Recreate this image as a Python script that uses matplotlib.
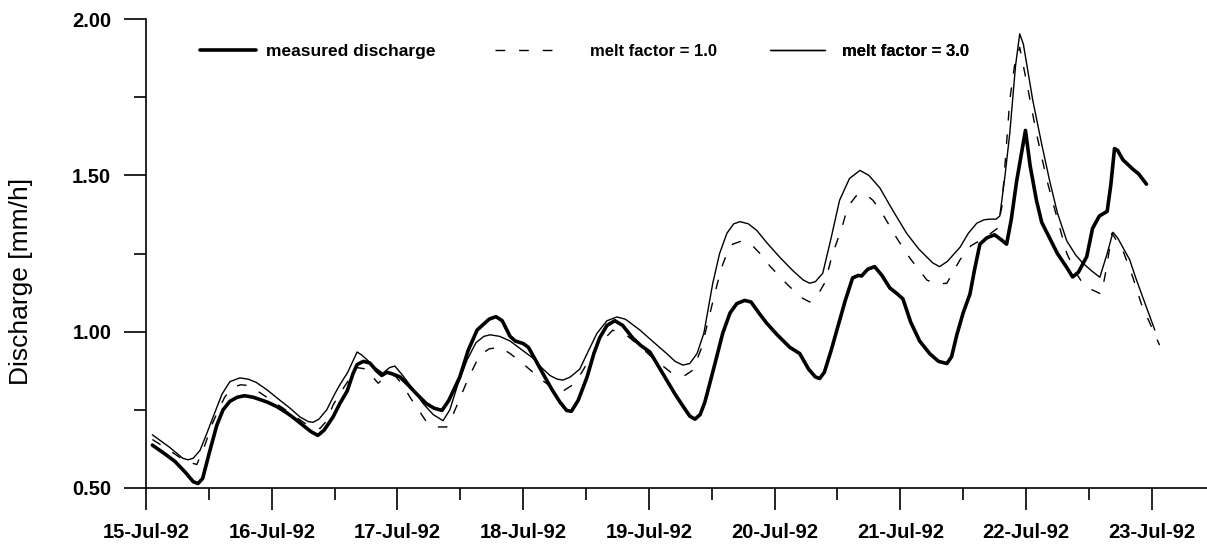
import matplotlib
matplotlib.use("Agg")
import matplotlib.pyplot as plt
import matplotlib.dates as mdates
from matplotlib.lines import Line2D
import numpy as np
import pandas as pd

# hours after 15-Jul-92 00:00 and discharge in mm/h
meas_h = [1.2, 3.5, 5.5, 7.5, 9.0, 9.9, 10.8, 12.2, 13.5, 14.7, 16.0, 17.4,
          18.8, 20.5, 23.1, 25.0, 26.9, 28.5, 30.0, 31.5, 32.8, 34.0, 35.7,
          37.0, 38.4, 39.5, 40.3, 41.5, 42.7, 44.0, 45.0, 46.0, 47.0, 48.5,
          50.0, 51.7, 53.5, 55.0, 56.5, 57.8, 59.9, 61.5, 63.2, 64.5, 65.5,
          66.8, 68.0, 69.5, 70.5, 72.0, 73.0, 74.5, 75.8, 77.5, 79.0, 80.3,
          81.2, 82.5, 84.2, 85.5, 86.6, 88.0, 89.5, 91.0, 92.9, 94.5, 96.2,
          97.8, 99.4, 101.0, 102.5, 103.8, 104.8, 105.8, 106.7, 108.5, 110.1,
          111.5, 112.8, 114.3, 115.5, 117.0, 118.5, 120.5, 122.9, 124.8,
          126.5, 127.8, 128.6, 129.5, 130.8, 131.9, 133.5, 134.9, 136.0,
          136.6, 137.8, 139.1, 140.5, 142.0, 143.5, 144.5, 146.0, 147.7,
          149.6, 151.3, 152.9, 153.8, 154.8, 156.0, 157.3, 158.2, 159.2,
          160.5, 162.0, 163.2, 164.3, 165.2, 166.2, 167.9, 168.8, 170.0,
          171.0, 172.5, 174.0, 175.8, 176.9, 178.0, 179.6, 180.7, 182.0,
          183.5, 184.2, 184.9, 185.5, 186.5, 188.4, 189.5, 191.0]
meas_q = [0.637, 0.61, 0.585, 0.55, 0.52, 0.514, 0.53, 0.62, 0.70, 0.75,
          0.777, 0.79, 0.795, 0.79, 0.775, 0.76, 0.74, 0.72, 0.70, 0.68,
          0.668, 0.685, 0.727, 0.77, 0.81, 0.865, 0.895, 0.905, 0.90, 0.875,
          0.86, 0.87, 0.865, 0.855, 0.83, 0.80, 0.77, 0.755, 0.748, 0.78,
          0.855, 0.94, 1.005, 1.025, 1.04, 1.048, 1.035, 0.985, 0.97, 0.962,
          0.95, 0.905, 0.865, 0.815, 0.775, 0.748, 0.745, 0.78, 0.855, 0.93,
          0.98, 1.02, 1.035, 1.02, 0.98, 0.955, 0.935, 0.89, 0.845, 0.80,
          0.762, 0.73, 0.72, 0.735, 0.775, 0.89, 0.995, 1.06, 1.09, 1.10,
          1.095, 1.06, 1.027, 0.99, 0.95, 0.93, 0.88, 0.855, 0.85, 0.87,
          0.94, 1.005, 1.10, 1.172, 1.18, 1.178, 1.20, 1.208, 1.18, 1.14,
          1.12, 1.105, 1.03, 0.97, 0.93, 0.905, 0.898, 0.92, 0.99, 1.06, 1.12,
          1.20, 1.28, 1.30, 1.31, 1.295, 1.28, 1.36, 1.48, 1.644, 1.53, 1.42,
          1.35, 1.30, 1.25, 1.205, 1.175, 1.19, 1.24, 1.33, 1.37, 1.385, 1.47,
          1.586, 1.58, 1.55, 1.52, 1.505, 1.472]

mf1_h = [1.2, 4.5, 7.5, 9.7, 11.3, 12.5, 13.7, 15.0, 16.4, 18.0, 19.5, 20.8,
         24.0, 27.5, 30.5, 33.2, 34.5, 35.7, 37.3, 38.9, 40.3, 42.2, 43.3,
         44.3, 45.8, 47.5, 49.0, 50.4, 52.0, 53.6, 55.5, 57.4, 58.5, 59.5,
         61.5, 63.7, 65.5, 67.6, 69.5, 71.8, 75.6, 78.0, 79.6, 81.5, 83.2,
         86.0, 89.1, 92.0, 94.5, 96.8, 100.4, 102.9, 104.4, 106.1, 108.6,
         109.9, 111.0, 112.0, 113.7, 115.8, 117.5, 119.1, 122.5, 125.0,
         126.7, 128.0, 129.6, 131.1, 132.8, 134.0, 135.6, 137.2, 138.8,
         140.5, 143.3, 145.8, 149.1, 151.0, 152.9, 155.4, 157.5, 160.1,
         162.5, 163.4, 164.9, 165.8, 166.8, 168.1, 170.0, 172.0, 173.9,
         175.8, 177.5, 178.8, 180.5, 182.4, 183.4, 184.4, 186.5, 188.4,
         190.0, 193.5]
mf1_q = [0.655, 0.62, 0.585, 0.575, 0.64, 0.70, 0.745, 0.79, 0.82, 0.83,
         0.828, 0.815, 0.78, 0.74, 0.705, 0.69, 0.715, 0.765, 0.81, 0.85,
         0.885, 0.88, 0.855, 0.835, 0.855, 0.86, 0.83, 0.79, 0.75, 0.71,
         0.695, 0.695, 0.73, 0.77, 0.85, 0.925, 0.945, 0.95, 0.93, 0.90,
         0.845, 0.815, 0.81, 0.83, 0.87, 0.95, 1.005, 0.985, 0.95, 0.915,
         0.867, 0.86, 0.877, 0.95, 1.123, 1.206, 1.255, 1.28, 1.29, 1.275,
         1.245, 1.21, 1.15, 1.11, 1.095, 1.11, 1.157, 1.25, 1.33, 1.40,
         1.435, 1.442, 1.42, 1.38, 1.30, 1.236, 1.165, 1.152, 1.155, 1.23,
         1.275, 1.30, 1.33, 1.40, 1.74, 1.85, 1.91, 1.80, 1.634, 1.484, 1.366,
         1.25, 1.19, 1.155, 1.135, 1.12, 1.206, 1.315, 1.26, 1.174, 1.09,
         0.957]

mf3_h = [1.2, 4.5, 7.0, 8.0, 9.0, 10.3, 11.5, 12.8, 14.5, 16.0, 17.9, 19.5,
         21.0, 23.0, 25.6, 27.5, 29.4, 31.0, 31.9, 33.0, 34.5, 36.0, 37.0,
         38.5, 40.3, 41.2, 42.2, 43.7, 45.2, 46.5, 47.5, 49.0, 51.0, 52.9,
         54.8, 56.7, 58.0, 59.5, 61.3, 63.0, 64.5, 65.7, 67.5, 69.5, 71.5,
         73.9, 75.5, 77.1, 78.5, 79.6, 81.0, 82.8, 84.5, 86.1, 88.0, 89.9,
         91.5, 94.3, 97.0, 99.4, 101.0, 102.5, 103.8, 105.2, 106.5, 108.2,
         109.5, 110.9, 112.2, 113.4, 115.0, 116.6, 118.5, 121.0, 123.5,
         125.5, 126.7, 127.8, 129.2, 130.8, 132.4, 134.3, 136.3, 138.0,
         140.1, 142.5, 145.2, 147.5, 150.2, 151.5, 153.0, 155.4, 157.0,
         158.6, 160.0, 161.1, 162.3, 163.0, 164.0, 164.9, 166.0, 166.8,
         167.5, 169.3, 171.0, 172.5, 174.0, 175.8, 177.5, 178.8, 180.5,
         182.1, 183.5, 184.6, 185.5, 187.8, 189.0, 190.3, 192.6]
mf3_q = [0.67, 0.63, 0.595, 0.59, 0.595, 0.62, 0.67, 0.727, 0.80, 0.84,
         0.852, 0.848, 0.838, 0.815, 0.78, 0.755, 0.727, 0.712, 0.71, 0.72,
         0.75, 0.80, 0.83, 0.87, 0.935, 0.925, 0.91, 0.885, 0.867, 0.885,
         0.89, 0.86, 0.815, 0.77, 0.735, 0.715, 0.75, 0.83, 0.91, 0.965,
         0.985, 0.99, 0.985, 0.97, 0.945, 0.915, 0.885, 0.86, 0.848, 0.845,
         0.855, 0.88, 0.94, 0.995, 1.035, 1.047, 1.04, 1.005, 0.965, 0.93,
         0.905, 0.893, 0.898, 0.93, 0.995, 1.155, 1.25, 1.315, 1.345, 1.352,
         1.345, 1.324, 1.285, 1.238, 1.195, 1.165, 1.155, 1.16, 1.187, 1.30,
         1.42, 1.49, 1.516, 1.50, 1.46, 1.39, 1.315, 1.265, 1.22, 1.208,
         1.225, 1.27, 1.315, 1.347, 1.358, 1.36, 1.36, 1.37, 1.50, 1.634,
         1.85, 1.953, 1.92, 1.74, 1.60, 1.484, 1.38, 1.29, 1.245, 1.22,
         1.195, 1.174, 1.25, 1.318, 1.30, 1.23, 1.17, 1.11, 1.005]

start = pd.Timestamp("1992-07-15")


def to_time(hours):
    return start + pd.to_timedelta(np.array(hours), unit="h")


plt.rcParams["font.family"] = ["Liberation Sans", "DejaVu Sans"]

fig = plt.figure(figsize=(12.07, 5.47), dpi=100)
ax = fig.add_axes([0.121, 0.108, 0.879, 0.857])

style = dict(color="black", solid_joinstyle="round", solid_capstyle="round")
l_meas, = ax.plot(to_time(meas_h), meas_q, lw=2.6, **style)
l_mf1, = ax.plot(to_time(mf1_h), mf1_q, lw=1.0, dashes=(7, 10), **style)
l_mf3, = ax.plot(to_time(mf3_h), mf3_q, lw=1.0, **style)

ax.set_ylim(0.5, 2.0)
ax.set_xlim(start, start + pd.Timedelta(days=8.44))
ax.set_yticks([0.5, 1.0, 1.5, 2.0])
ax.set_yticks([0.75, 1.25, 1.75], minor=True)
ax.yaxis.set_major_formatter(matplotlib.ticker.FormatStrFormatter("%.2f"))

ax.xaxis.set_major_locator(mdates.DayLocator())
ax.xaxis.set_minor_locator(mdates.HourLocator(byhour=[12]))
ax.xaxis.set_major_formatter(mdates.DateFormatter("%d-%b-%y"))

for s in ["top", "right"]:
    ax.spines[s].set_visible(False)
ax.spines["left"].set_linewidth(1.2)
ax.spines["bottom"].set_linewidth(1.2)

ax.tick_params(which="major", length=16, width=1.2, direction="out")
ax.tick_params(which="minor", length=8.5, width=1.2, direction="out")
ax.tick_params(axis="y", which="major", pad=9)
ax.tick_params(axis="x", which="major", pad=9)
for lab in ax.get_xticklabels() + ax.get_yticklabels():
    lab.set_fontsize(14.5)
    lab.set_fontweight("bold")

ax.set_ylabel("Discharge [mm/h]", fontsize=19)
ax.yaxis.set_label_coords(-0.107, 0.441)

# one small legend per series, spread across the top
entries = [
    (l_meas, "measured discharge", 0.051, 3.2, 0.6, 12.5),
    (l_mf1, "melt factor = 1.0", 0.329, 3.6, 2.1, 12),
    (l_mf3, "melt factor = 3.0", 0.588, 3.3, 1.05, 12),
]
for handle, text, x0, hlen, tpad, fs in entries:
    leg = ax.legend([handle], [text], loc="center left",
                    bbox_to_anchor=(x0, 0.932), frameon=False, borderpad=0,
                    borderaxespad=0, handlelength=hlen, handletextpad=tpad,
                    prop=dict(size=fs, weight="bold"))
    ax.add_artist(leg)

fig.savefig("out.png", dpi=100, facecolor="white")
